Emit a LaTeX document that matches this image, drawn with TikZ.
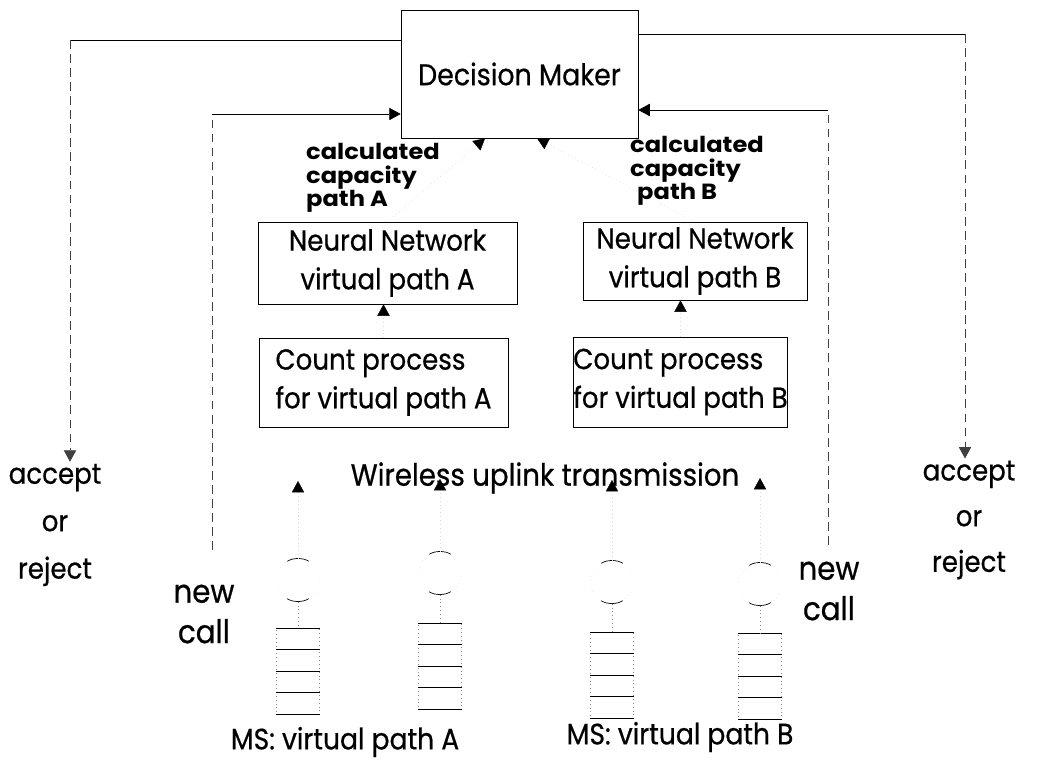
\documentclass[tikz,border=0pt]{standalone}
\usepackage{fontspec}
\setmainfont{Poppins}[FakeStretch=0.9, FakeBold=0.6]
\newfontfamily\capfont{Poppins}[FakeStretch=1.1]
\usetikzlibrary{arrows.meta, calc, positioning}

\begin{document}
\begin{tikzpicture}[x=0.02cm, y=-0.02cm,
  box/.style={draw, thin, rectangle, inner sep=0pt, align=center,
              font=\fontsize{16.5}{22}\selectfont},
  lbl/.style={font=\fontsize{16.5}{22}\selectfont, align=center, inner sep=1pt},
  caplbl/.style={font=\capfont\bfseries\fontsize{12.5}{13.4}\selectfont, align=left, inner sep=0pt},
  arrow/.style={-{Triangle[length=6.5pt, width=7pt]}, thin},
  faintarrow/.style={-{Triangle[length=6.5pt, width=7pt, color=black]}, very thin, dotted, black!40},
  ghostarrow/.style={-{Triangle[length=6.5pt, width=7pt, color=black]}, very thin, dotted, black!15},
  vline/.style={thin, dash pattern=on 5pt off 3pt, black!75},
  faint/.style={very thin, dotted, black!45},
  station/.style={circle, draw=black!25, very thin, dotted, minimum size=0.86cm, inner sep=0pt},
  queue/.style={draw=black!45, very thin, dotted, minimum width=0.86cm, minimum height=1.72cm, inner sep=0pt}
]
  \useasboundingbox (0,0) rectangle (1038,770);

  % decision maker and the two path blocks
  \node[box, font=\fontsize{17}{22}\selectfont, minimum width=4.74cm, minimum height=2.56cm] (dm) at (519.5,74) {Decision Maker};
  \node[box, minimum width=5.18cm, minimum height=1.64cm] (nnA) at (387.5,263) {Neural Network\\virtual path A};
  \node[box, minimum width=4.48cm, minimum height=1.56cm] (nnB) at (695,261) {Neural Network\\virtual path B};
  \node[box, align=left, minimum width=4.98cm, minimum height=1.78cm] (cntA) at (383.5,382.5) {Count process\\for virtual path A};
  \node[box, align=left, minimum width=4.26cm, minimum height=1.80cm] (cntB) at (680.5,382) {Count process\\for virtual path B};

  \node[caplbl] (capA) at (373,178) {calculated\\capacity\\path A};
  \node[caplbl] (capB) at (697,171) {calculated\\capacity\\\hspace{4pt}path B};

  \draw[faintarrow] (nnA.north) -- ($(dm.south west)!0.355!(dm.south east)$);
  \draw[faintarrow] (nnB.north) -- ($(dm.south west)!0.574!(dm.south east)$);
  \draw[ghostarrow] (cntA.north) -- (cntA.north |- nnA.south);
  \draw[ghostarrow] (cntB.north) -- (cntB.north |- nnB.south);

  % accept / reject outputs
  \node[lbl, font=\fontsize{16.5}{27}\selectfont] (accL) at (55,525) {accept\\or\\reject};
  \node[lbl, font=\fontsize{16.5}{26}\selectfont] (accR) at (969,520) {accept\\or\\reject};
  \coordinate (tl) at (70,40);
  \coordinate (tr) at (965,34);
  \draw[thin] (dm.west |- tl) -- (tl);
  \draw[vline, arrow] (tl) -- (tl |- accL.north);
  \draw[thin] (dm.east |- tr) -- (tr);
  \draw[vline, arrow] (tr) -- (tr |- accR.north);

  % new calls
  \node[lbl, font=\fontsize{18.5}{23}\selectfont] (newA) at (204,614) {new\\call};
  \node[lbl, font=\fontsize{18.5}{23}\selectfont] (newB) at (829,591) {new\\call};
  \coordinate (ncA) at (212,550);
  \coordinate (il) at (212,114);
  \coordinate (ncB) at (828,545);
  \coordinate (ir) at (828,110);
  \draw[vline] (ncA) -- (il);
  \draw[arrow] (il) -- (il -| dm.west);
  \draw[vline] (ncB) -- (ir);
  \draw[arrow] (ir) -- (ir -| dm.east);

  % mobile stations
  \node[lbl, font=\fontsize{17.5}{22}\selectfont] (wl) at (545,478) {Wireless uplink transmission};
  \foreach \n/\x/\cy/\qt/\at in {A1/298/580/628/481, A2/440/573/623/479, B1/612/582/632/480, B2/760/584/633/478} {
    \node[station] (c\n) at (\x,\cy) {};
    \node[queue, anchor=north] (q\n) at (\x,\qt) {};
    \foreach \k in {0,...,4}
      \draw[thin] ($(q\n.north west)+(0,\k*21.5)$) -- ($(q\n.north east)+(0,\k*21.5)$);
    \draw[thin] (c\n.60) arc[start angle=60, end angle=120, radius=0.43cm];
    \draw[thin] (c\n.240) arc[start angle=240, end angle=300, radius=0.43cm];
    \draw[faint] (c\n) -- (q\n);
    \coordinate (t\n) at (\x,\at);
    \draw[ghostarrow] (c\n) -- (t\n);
  }
  \node[lbl, font=\fontsize{16.8}{22}\selectfont] (msA) at (345,742) {MS: virtual path A};
  \node[lbl, font=\fontsize{16.8}{22}\selectfont] (msB) at (680,737) {MS: virtual path B};
\end{tikzpicture}
\end{document}
